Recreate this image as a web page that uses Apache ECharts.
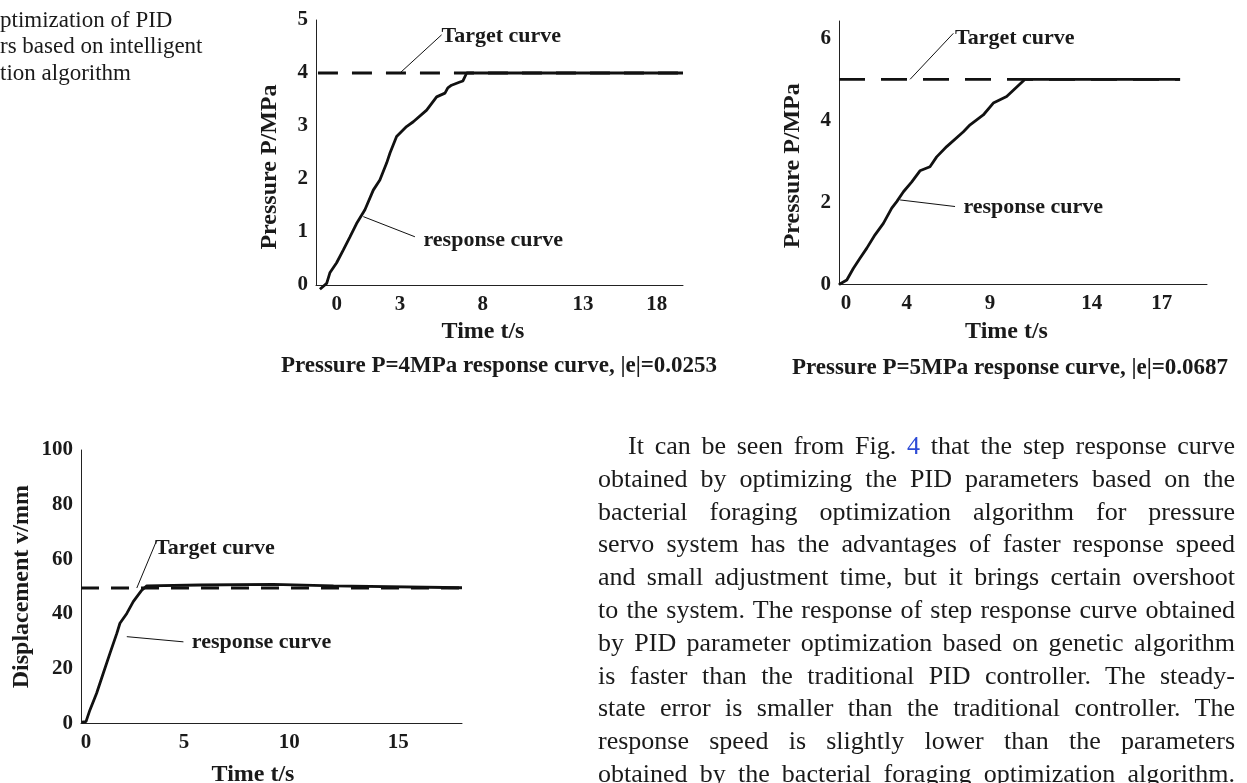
<!DOCTYPE html>
<html>
<head>
<meta charset="utf-8">
<title>PID step response curves</title>
<script src="https://cdn.jsdelivr.net/npm/echarts@6/dist/echarts.min.js"></script>
<style>
    html, body { margin: 0; padding: 0; background: #fff; }
    #page { position: relative; width: 1247px; height: 783px; overflow: hidden; }
    #chart { position: absolute; left: 0; top: 0; width: 1247px; height: 783px; }
    .serif { position: absolute; font-family: "Liberation Serif", "Times New Roman", serif; color: #1a1a1a; }
    #figcap { left: 0; top: 7px; font-size: 23px; line-height: 26.3px; white-space: nowrap; }
    #body { left: 598px; top: 430px; width: 637px; font-size: 26px; line-height: 32.8px; }
    #body div { text-align: justify; text-align-last: justify; white-space: nowrap; }
    #body .first { text-indent: 30px; }
    .ref { color: #2d4bd6; }
</style>
</head>
<body>
<div id="page">
    <div id="chart"></div>
    <div id="figcap" class="serif">
        ptimization of PID<br>
        rs based on intelligent<br>
        tion algorithm
    </div>
    <div id="body" class="serif">
        <div class="first">It can be seen from Fig. <span class="ref">4</span> that the step response curve</div>
        <div>obtained by optimizing the PID parameters based on the</div>
        <div>bacterial foraging optimization algorithm for pressure</div>
        <div>servo system has the advantages of faster response speed</div>
        <div>and small adjustment time, but it brings certain overshoot</div>
        <div>to the system. The response of step response curve obtained</div>
        <div>by PID parameter optimization based on genetic algorithm</div>
        <div>is faster than the traditional PID controller. The steady-</div>
        <div>state error is smaller than the traditional controller. The</div>
        <div>response speed is slightly lower than the parameters</div>
        <div>obtained by the bacterial foraging optimization algorithm.</div>
    </div>
</div>
<script>
// ---- pressure P = 4 MPa ----
var p4Time = [-0.94, -0.56, -0.38, 0, 0.37, 0.75, 1.12, 1.59, 2.06, 2.43, 2.81, 3.0, 3.37, 3.93, 4.31, 5.06, 5.62, 6.09, 6.25, 6.46, 6.93, 7.1, 7.31, 19.47];
var p4Resp = [-0.08, 0.03, 0.23, 0.42, 0.66, 0.91, 1.16, 1.42, 1.79, 1.98, 2.30, 2.49, 2.80, 2.99, 3.08, 3.30, 3.55, 3.62, 3.72, 3.77, 3.83, 3.85, 4.0, 4.0];
var p4TargetTime = [-1.05, 19.47];
var p4Target = [4, 4];
var p4TickAt = [0, 3.56, 8.21, 13.85, 18];
var p4TickLabels = ['0', '3', '8', '13', '18'];

// ---- pressure P = 5 MPa ----
var p5Time = [-0.38, 0.04, 0.39, 0.75, 1.11, 1.56, 2.01, 2.46, 2.73, 3.09, 3.54, 3.98, 4.52, 4.88, 5.42, 6.32, 6.68, 7.39, 7.93, 8.65, 9.64, 17.99];
var p5Resp = [0, 0.11, 0.39, 0.64, 0.88, 1.21, 1.49, 1.86, 2.02, 2.26, 2.50, 2.77, 2.87, 3.11, 3.36, 3.72, 3.89, 4.13, 4.42, 4.58, 5.0, 5.0];
var p5TargetTime = [-0.38, 17.99];
var p5Target = [5, 5];
var p5TickAt = [0, 3.27, 7.75, 13.23, 17];
var p5TickLabels = ['0', '4', '9', '14', '17'];
var p5YTicks = [0, 2, 4, 6];

// ---- displacement ----
var dTime = [-0.2, 0, 0.19, 0.51, 0.83, 1.15, 1.48, 1.63, 1.96, 2.27, 2.68, 2.92, 5.48, 9.0, 11.89, 18.06];
var dResp = [0.4, 0.6, 4.9, 11.0, 18.3, 25.6, 32.9, 36.6, 40.2, 44.5, 48.7, 50.3, 50.6, 50.8, 50.3, 49.6];
var dTargetTime = [-0.24, 18.06];
var dTarget = [49.5, 49.5];
var dTickAt = [0, 4.71, 9.76, 15];
var dTickLabels = ['0', '5', '10', '15'];

// annotation leaders: [from, to] in data units, label anchor
var p4Notes = [
    {name: 'Target curve', from: [3.56, 4.0], to: [5.9, 4.72], at: [5.9, 4.7]},
    {name: 'response curve', from: [1.5, 1.29], to: [4.4, 0.91], at: [4.88, 0.85]}
];
var p5Notes = [
    {name: 'Target curve', from: [3.45, 5.0], to: [5.78, 6.12], at: [5.87, 6.0]},
    {name: 'response curve', from: [2.91, 2.06], to: [5.87, 1.90], at: [6.32, 1.89]}
];
var dNotes = [
    {name: 'Target curve', from: [2.44, 49.5], to: [3.4, 67.0], at: [3.32, 64.1]},
    {name: 'response curve', from: [1.96, 31.7], to: [4.68, 29.8], at: [5.08, 29.8]}
];

var FONT = '"Liberation Serif", "Times New Roman", serif';
var INK = '#1a1a1a';

function zip(xs, ys) {
    var out = [];
    for (var i = 0; i < xs.length; i++) out.push([xs[i], ys[i]]);
    return out;
}

function pickLabel(ticks, labels) {
    return function (v) {
        for (var i = 0; i < ticks.length; i++) {
            if (Math.abs(ticks[i] - v) < 1e-6) return labels[i];
        }
        return '';
    };
}

function xAxisOf(grid, min, max, ticks, labels, shift, gap, margin) {
    return {
        type: 'value', gridIndex: grid, min: min, max: max,
        name: 'Time t/s', nameLocation: 'middle', nameGap: gap,
        nameTextStyle: {fontFamily: FONT, fontWeight: 'bold', fontSize: 24, color: INK, padding: [0, shift, 0, 0]},
        axisLine: {onZero: false, lineStyle: {color: '#222', width: 1}},
        axisTick: {show: false},
        splitLine: {show: false},
        axisLabel: {
            customValues: ticks, formatter: pickLabel(ticks, labels), margin: margin,
            fontFamily: FONT, fontWeight: 'bold', fontSize: 21, color: INK
        }
    };
}

function yAxisOf(grid, min, max, interval, name, shift, gap, custom) {
    var label = {margin: 8, fontFamily: FONT, fontWeight: 'bold', fontSize: 21, color: INK};
    if (custom) label.customValues = custom;
    return {
        type: 'value', gridIndex: grid, min: min, max: max, interval: interval,
        name: name, nameLocation: 'middle', nameGap: gap,
        nameTextStyle: {fontFamily: FONT, fontWeight: 'bold', fontSize: 24, color: INK, padding: [0, shift, 0, 0]},
        axisLine: {show: true, onZero: false, lineStyle: {color: '#222', width: 1}},
        axisTick: {show: false},
        splitLine: {show: false},
        axisLabel: label
    };
}

function notesOf(notes) {
    var lines = [], points = [];
    for (var i = 0; i < notes.length; i++) {
        lines.push([{coord: notes[i].from}, {coord: notes[i].to}]);
        points.push({name: notes[i].name, coord: notes[i].at});
    }
    return {lines: lines, points: points};
}

function responseSeries(idx, xs, ys, notes) {
    var n = notesOf(notes);
    return {
        type: 'line', xAxisIndex: idx, yAxisIndex: idx,
        data: zip(xs, ys), showSymbol: false, symbol: 'none', clip: false, z: 3,
        lineStyle: {color: '#111', width: 2.8},
        markLine: {
            silent: true, symbol: 'none', animation: false,
            label: {show: false},
            lineStyle: {color: '#111', width: 1, type: 'solid'},
            data: n.lines
        },
        markPoint: {
            silent: true, symbol: 'circle', symbolSize: 0, animation: false,
            itemStyle: {color: 'rgba(0,0,0,0)'},
            label: {
                show: true, position: 'right', distance: 0, formatter: '{b}',
                fontFamily: FONT, fontWeight: 'bold', fontSize: 22, color: INK
            },
            data: n.points
        }
    };
}

function targetSeries(idx, xs, ys, dash) {
    return {
        type: 'line', xAxisIndex: idx, yAxisIndex: idx,
        data: zip(xs, ys), showSymbol: false, symbol: 'none', z: 2,
        lineStyle: {color: '#111', width: 2.8, type: dash}
    };
}

var chart = echarts.init(document.getElementById('chart'), null, {renderer: 'canvas'});

var option = {
    animation: false,
    backgroundColor: '#fff',
    title: [
        {text: 'Pressure P=4MPa response curve, |e|=0.0253', left: 499, top: 355, textAlign: 'center', padding: 0,
            textStyle: {fontFamily: FONT, fontWeight: 'bold', fontSize: 23, color: INK}},
        {text: 'Pressure P=5MPa response curve, |e|=0.0687', left: 1010, top: 357, textAlign: 'center', padding: 0,
            textStyle: {fontFamily: FONT, fontWeight: 'bold', fontSize: 23, color: INK}}
    ],
    grid: [
        {left: 316, top: 20, width: 367, height: 265, outerBoundsMode: 'none'},
        {left: 839, top: 21, width: 368, height: 263.5, outerBoundsMode: 'none'},
        {left: 81, top: 450, width: 381, height: 273.3, outerBoundsMode: 'none'}
    ],
    xAxis: [
        xAxisOf(0, -1.16, 19.47, p4TickAt, p4TickLabels, 33, 35, 9),
        xAxisOf(1, -0.38, 19.44, p5TickAt, p5TickLabels, 33, 35, 9),
        xAxisOf(2, -0.24, 18.06, dTickAt, dTickLabels, 37, 39, 9)
    ],
    yAxis: [
        yAxisOf(0, 0, 5, 1, 'Pressure P/MPa', 29, 34),
        yAxisOf(1, 0, 6.42, 2, 'Pressure P/MPa', 26, 34, p5YTicks),
        yAxisOf(2, 0, 100, 20, 'Displacement v/mm', 0, 47)
    ],
    series: [
        targetSeries(0, p4TargetTime, p4Target, [20, 14]),
        responseSeries(0, p4Time, p4Resp, p4Notes),
        targetSeries(1, p5TargetTime, p5Target, [26, 16]),
        responseSeries(1, p5Time, p5Resp, p5Notes),
        targetSeries(2, dTargetTime, dTarget, [18, 12]),
        responseSeries(2, dTime, dResp, dNotes)
    ]
};

chart.setOption(option);
</script>
</body>
</html>
